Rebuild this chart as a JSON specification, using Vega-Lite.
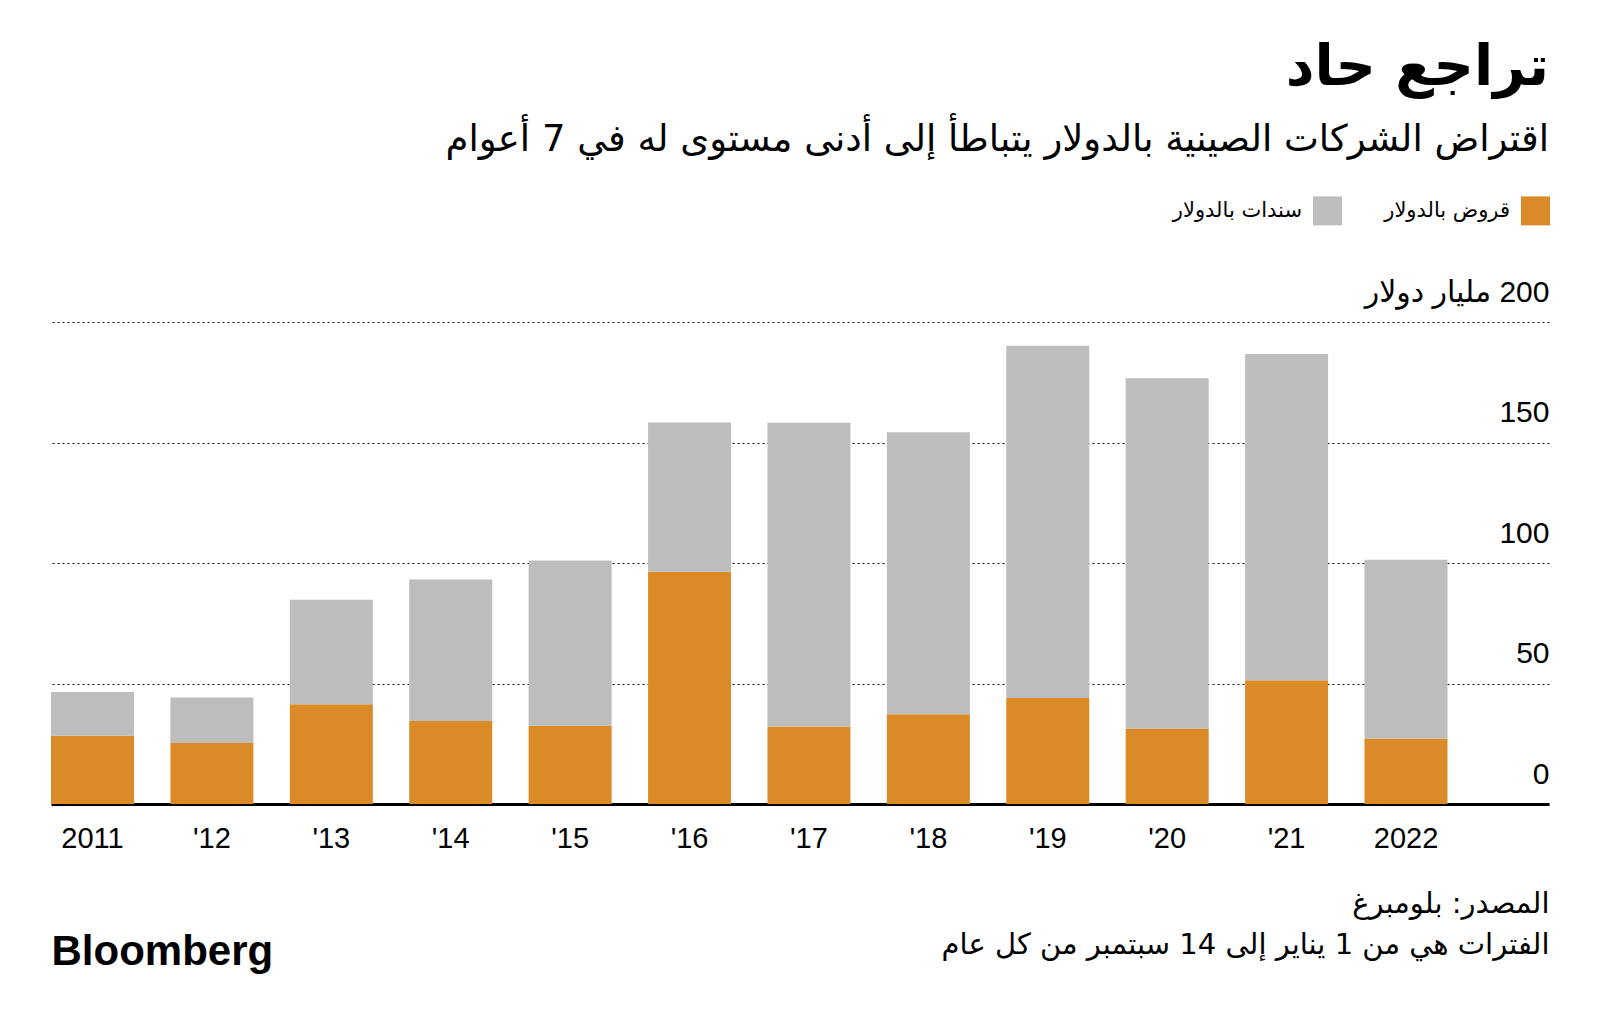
{
  "$schema": "https://vega.github.io/schema/vega-lite/v6.json",
  "width": 1498,
  "height": 482,
  "autosize": {"type": "none"},
  "padding": {"left": 51, "top": 322, "right": 51, "bottom": 226},
  "background": "white",
  "config": {"view": {"stroke": null}, "font": "Liberation Sans"},
  "title": {
    "text": "تراجع حاد",
    "subtitle": "اقتراض الشركات الصينية بالدولار يتباطأ إلى أدنى مستوى له في 7 أعوام",
    "anchor": "end",
    "frame": "group",
    "font": "DejaVu Sans",
    "fontSize": 56,
    "fontWeight": "bold",
    "color": "black",
    "subtitleFont": "DejaVu Sans",
    "subtitleFontSize": 37,
    "subtitleColor": "black",
    "subtitlePadding": 25,
    "offset": 37
  },
  "data": {
    "values": [
      {"year": "2011", "type": "قروض بالدولار", "value": 28.3},
      {"year": "2011", "type": "سندات بالدولار", "value": 18.2},
      {"year": "'12", "type": "قروض بالدولار", "value": 25.3},
      {"year": "'12", "type": "سندات بالدولار", "value": 18.9},
      {"year": "'13", "type": "قروض بالدولار", "value": 41.4},
      {"year": "'13", "type": "سندات بالدولار", "value": 43.3},
      {"year": "'14", "type": "قروض بالدولار", "value": 34.4},
      {"year": "'14", "type": "سندات بالدولار", "value": 58.8},
      {"year": "'15", "type": "قروض بالدولار", "value": 32.5},
      {"year": "'15", "type": "سندات بالدولار", "value": 68.5},
      {"year": "'16", "type": "قروض بالدولار", "value": 96.4},
      {"year": "'16", "type": "سندات بالدولار", "value": 61.9},
      {"year": "'17", "type": "قروض بالدولار", "value": 32.2},
      {"year": "'17", "type": "سندات بالدولار", "value": 126.0},
      {"year": "'18", "type": "قروض بالدولار", "value": 37.2},
      {"year": "'18", "type": "سندات بالدولار", "value": 117.1},
      {"year": "'19", "type": "قروض بالدولار", "value": 44.0},
      {"year": "'19", "type": "سندات بالدولار", "value": 146.1},
      {"year": "'20", "type": "قروض بالدولار", "value": 31.3},
      {"year": "'20", "type": "سندات بالدولار", "value": 145.4},
      {"year": "'21", "type": "قروض بالدولار", "value": 51.4},
      {"year": "'21", "type": "سندات بالدولار", "value": 135.3},
      {"year": "2022", "type": "قروض بالدولار", "value": 27.2},
      {"year": "2022", "type": "سندات بالدولار", "value": 74.2}
    ]
  },
  "mark": {"type": "bar"},
  "encoding": {
    "x": {
      "field": "year",
      "type": "nominal",
      "sort": null,
      "scale": {"paddingInner": 0.305, "paddingOuter": 0.425, "align": 0},
      "axis": {
        "title": "Bloomberg",
        "titleFont": "Liberation Sans",
        "titleFontWeight": "bold",
        "titleFontSize": 42,
        "titleColor": "black",
        "titleAlign": "left",
        "titleBaseline": "alphabetic",
        "titleX": 0,
        "titleY": 160,
        "labelAngle": 0,
        "labelFont": "Liberation Sans",
        "labelFontSize": 29,
        "labelColor": "black",
        "labelBaseline": "top",
        "labelPadding": 20,
        "ticks": false,
        "tickSize": 0,
        "domainColor": "black",
        "domainWidth": 3,
        "grid": false
      }
    },
    "y": {
      "field": "value",
      "type": "quantitative",
      "stack": "zero",
      "scale": {"domain": [0, 200], "nice": false},
      "axis": {
        "orient": "right",
        "values": [0, 50, 100, 150, 200],
        "labelExpr": "datum.value == 200 ? '\u200f200 مليار دولار' : datum.label",
        "labelAlign": "right",
        "labelBaseline": "alphabetic",
        "labelOffset": -21,
        "labelPadding": 0,
        "labelLimit": 0,
        "ticks": false,
        "tickSize": 0,
        "domain": false,
        "grid": true,
        "gridColor": "#111111",
        "gridDash": [2, 3],
        "gridWidth": 1,
        "labelFont": "Liberation Sans, DejaVu Sans",
        "labelFontSize": 30,
        "labelColor": "black",
        "labelBound": false,
        "labelOverlap": false,
        "labelFlush": false,
        "title": ["المصدر: بلومبرغ", "الفترات هي من 1 يناير إلى 14 سبتمبر من كل عام"],
        "titleFont": "DejaVu Sans",
        "titleFontSize": 29,
        "titleFontWeight": "normal",
        "titleColor": "black",
        "titleAngle": 0,
        "titleAlign": "right",
        "titleBaseline": "alphabetic",
        "titleX": 0,
        "titleY": 590,
        "titleLineHeight": 41,
        "titleLimit": 0
      }
    },
    "color": {
      "field": "type",
      "type": "nominal",
      "scale": {"domain": ["سندات بالدولار", "قروض بالدولار"], "range": ["#BDBDBD", "#DA8A26"]},
      "legend": {
        "orient": "none",
        "legendX": 1262,
        "legendY": -125.6,
        "direction": "horizontal",
        "title": null,
        "padding": 0,
        "symbolType": "square",
        "symbolSize": 841,
        "symbolStrokeWidth": 0,
        "symbolOpacity": 1,
        "labelFont": "DejaVu Sans",
        "labelFontSize": 21,
        "labelColor": "black",
        "labelAlign": "right",
        "labelOffset": -40,
        "labelLimit": 0,
        "columnPadding": 42
      }
    },
    "order": {"field": "type", "sort": "descending"}
  }
}
